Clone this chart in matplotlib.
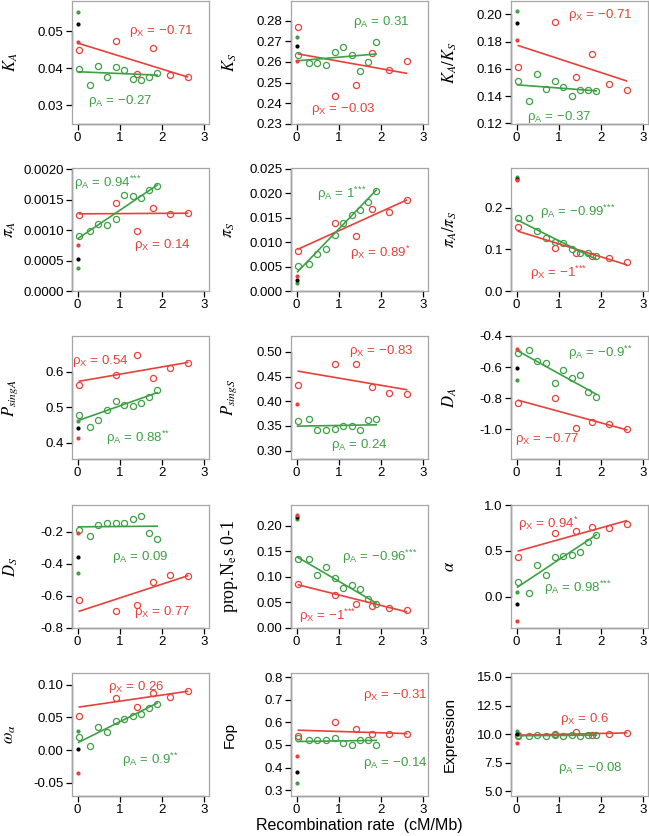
import matplotlib
matplotlib.use("Agg")
from matplotlib import pyplot as plt

plt.rcParams['font.family'] = ['Liberation Sans', 'DejaVu Sans']
plt.rcParams['mathtext.fontset'] = 'custom'
plt.rcParams['mathtext.rm'] = 'Liberation Sans'
plt.rcParams['mathtext.it'] = 'Liberation Sans:italic'
plt.rcParams['mathtext.bf'] = 'Liberation Sans:bold'

RED = '#e8403a'
GREEN = '#3da045'
DOT_COLS = [GREEN, 'black', RED]

# recombination rate of the autosomal (A) and X-linked (X) bins
rec_A = [0.02, 0.30, 0.49, 0.69, 0.91, 1.11, 1.31, 1.50, 1.69, 1.89]
rec_X = [0.04, 0.91, 1.42, 1.80, 2.19, 2.61]

# K_A
ka_A = [0.0397, 0.0354, 0.0406, 0.0377, 0.0402, 0.0394, 0.0370, 0.0368, 0.0376, 0.0388]
ka_X = [0.0449, 0.0474, 0.0385, 0.0453, 0.0382, 0.0377]
ka_dots = [0.0551, 0.0520, 0.0471]
ka_fitA = [0.0390, 0.0381]
ka_fitX = [0.0466, 0.0376]

# K_S
ks_A = [0.2635, 0.2594, 0.2597, 0.2585, 0.2650, 0.2671, 0.2635, 0.2555, 0.2602, 0.2697]
ks_X = [0.2771, 0.2435, 0.2489, 0.2644, 0.2561, 0.2603]
ks_dots = [0.2724, 0.2677, 0.2605]
ks_fitA = [0.2606, 0.2639]
ks_fitX = [0.2639, 0.2545]

# K_A / K_S
kaks_A = [0.1510, 0.1366, 0.1563, 0.1454, 0.1512, 0.1471, 0.1405, 0.1444, 0.1444, 0.1437]
kaks_X = [0.1615, 0.1941, 0.1539, 0.1712, 0.1490, 0.1444]
kaks_dots = [0.2024, 0.1937, 0.1810]
kaks_fitA = [0.1483, 0.1439]
kaks_fitX = [0.1771, 0.1512]

# pi_A
pia_A = [0.000911, 0.000981, 0.001094, 0.001084, 0.001180, 0.001569, 0.001558, 0.001526, 0.001660, 0.001720]
pia_X = [0.001240, 0.001445, 0.000992, 0.001364, 0.001272, 0.001288]
pia_dots = [0.000383, 0.000528, 0.000760]
pia_fitA = [0.000868, 0.001740]
pia_fitX = [0.001267, 0.001278]

# pi_S
pis_A = [0.00522, 0.00562, 0.00759, 0.00860, 0.01145, 0.01396, 0.01558, 0.01660, 0.01829, 0.02040]
pis_X = [0.00820, 0.01402, 0.01118, 0.01673, 0.01626, 0.01863]
pis_dots = [0.00156, 0.00224, 0.00312]
pis_fitA = [0.00393, 0.02066]
pis_fitX = [0.00860, 0.01863]

# pi_A / pi_S
pipi_A = [0.176, 0.176, 0.145, 0.127, 0.118, 0.114, 0.101, 0.092, 0.090, 0.084]
pipi_X = [0.154, 0.103, 0.090, 0.084, 0.078, 0.069]
pipi_dots = [0.2735, 0.2690, 0.2653]
pipi_fitA = [0.170, 0.076]
pipi_fitX = [0.143, 0.063]

# P_singA
psa_A = [0.4787, 0.4436, 0.4645, 0.4929, 0.5166, 0.5052, 0.5024, 0.5128, 0.5289, 0.5479]
psa_X = [0.5621, 0.5924, 0.6474, 0.5839, 0.6123, 0.6237]
psa_dots = [0.4597, 0.4408, 0.4133]
psa_fitA = [0.4626, 0.5412]
psa_fitX = [0.5735, 0.6265]

# P_singS
pss_A = [0.3597, 0.3631, 0.3420, 0.3420, 0.3434, 0.3488, 0.3488, 0.3427, 0.3610, 0.3631]
pss_X = [0.4336, 0.4756, 0.4756, 0.4288, 0.4166, 0.4146]
pss_dots = [None, None, 0.3942]
pss_fitA = [0.3495, 0.3522]
pss_fitX = [0.4607, 0.4234]

# D_A
da_A = [-0.512, -0.491, -0.560, -0.577, -0.700, -0.620, -0.668, -0.652, -0.763, -0.793]
da_X = [-0.832, -0.797, -0.991, -0.952, -0.965, -1.002]
da_dots = [-0.685, -0.603, -0.486]
da_fitA = [-0.495, -0.775]
da_fitX = [-0.814, -1.004]

# D_S
ds_A = [-0.185, -0.223, -0.154, -0.147, -0.143, -0.141, -0.120, -0.101, -0.204, -0.242]
ds_X = [-0.627, -0.695, -0.659, -0.512, -0.467, -0.474]
ds_dots = [-0.457, -0.354, -0.206]
ds_fitA = [-0.168, -0.164]
ds_fitX = [-0.695, -0.474]

# prop. Nes 0-1
nes_A = [0.1349, 0.1355, 0.1040, 0.1197, 0.0967, 0.0776, 0.0836, 0.0757, 0.0572, 0.0474]
nes_X = [0.0868, 0.0651, 0.0460, 0.0428, 0.0395, 0.0342]
nes_dots = [0.2118, 0.2171, 0.2204]
nes_fitA = [0.1382, 0.0487]
nes_fitX = [0.0842, 0.0316]

# alpha
al_A = [0.157, 0.047, 0.343, 0.237, 0.438, 0.449, 0.456, 0.489, 0.602, 0.668]
al_X = [0.434, 0.690, 0.719, 0.756, 0.748, 0.792]
al_dots = [0.058, -0.073, -0.263]
al_fitA = [0.106, 0.675]
al_fitX = [0.500, 0.829]

# omega_alpha
om_A = [0.020, 0.006, 0.035, 0.028, 0.045, 0.048, 0.052, 0.056, 0.065, 0.070]
om_X = [0.052, 0.080, 0.066, 0.088, 0.082, 0.091]
om_dots = [0.029, 0.0015, -0.035]
om_fitA = [0.012, 0.072]
om_fitX = [0.066, 0.090]

# Fop
fop_A = [0.53, 0.52, 0.52, 0.52, 0.53, 0.51, 0.50, 0.52, 0.52, 0.50]
fop_X = [0.54, 0.60, 0.57, 0.55, 0.55, 0.55]
fop_dots = [0.33, 0.38, 0.45]
fop_fitA = [0.515, 0.520]
fop_fitX = [0.565, 0.550]

# Expression
ex_A = [9.9, 9.8, 9.9, 9.8, 9.9, 9.8, 9.9, 9.8, 9.9, 9.9]
ex_X = [9.8, 10.0, 10.2, 9.9, 10.0, 10.1]
ex_dots = [10.3, 10.0, 9.2]
ex_fitA = [9.85, 9.90]
ex_fitX = [9.90, 10.10]

# correlation labels
rho_A = ['−0.27', '0.31', '−0.37', '0.94$^{{*}{*}{*}}$', '1$^{{*}{*}{*}}$', '−0.99$^{{*}{*}{*}}$',
         '0.88$^{{*}{*}}$', '0.24', '−0.9$^{{*}{*}}$', '0.09', '−0.96$^{{*}{*}{*}}$', '0.98$^{{*}{*}{*}}$',
         '0.9$^{{*}{*}}$', '−0.14', '−0.08']
rho_X = ['−0.71', '−0.03', '−0.71', '0.14', '0.89$^{*}$', '−1$^{{*}{*}{*}}$',
         '0.54', '−0.83', '−0.77', '0.77', '−1$^{{*}{*}{*}}$', '0.94$^{*}$',
         '0.26', '−0.31', '0.6']

series = [
    (ka_A, ka_X, ka_dots, ka_fitA, ka_fitX),
    (ks_A, ks_X, ks_dots, ks_fitA, ks_fitX),
    (kaks_A, kaks_X, kaks_dots, kaks_fitA, kaks_fitX),
    (pia_A, pia_X, pia_dots, pia_fitA, pia_fitX),
    (pis_A, pis_X, pis_dots, pis_fitA, pis_fitX),
    (pipi_A, pipi_X, pipi_dots, pipi_fitA, pipi_fitX),
    (psa_A, psa_X, psa_dots, psa_fitA, psa_fitX),
    (pss_A, pss_X, pss_dots, pss_fitA, pss_fitX),
    (da_A, da_X, da_dots, da_fitA, da_fitX),
    (ds_A, ds_X, ds_dots, ds_fitA, ds_fitX),
    (nes_A, nes_X, nes_dots, nes_fitA, nes_fitX),
    (al_A, al_X, al_dots, al_fitA, al_fitX),
    (om_A, om_X, om_dots, om_fitA, om_fitX),
    (fop_A, fop_X, fop_dots, fop_fitA, fop_fitX),
    (ex_A, ex_X, ex_dots, ex_fitA, ex_fitX),
]

# layout: ylabel, label style, ylim, ticks, decimals, pos of rho_A label, pos of rho_X label
panels = [
    (r'$K_A$', 'math', (0.0249, 0.0581), [0.03, 0.04, 0.05], 2, (0.35, 0.19), (0.65, 0.76)),
    (r'$K_S$', 'math', (0.2298, 0.2897), [0.23, 0.24, 0.25, 0.26, 0.27, 0.28], 2, (0.66, 0.83), (0.38, 0.12)),
    (r'$K_A/K_S$', 'math', (0.1196, 0.2098), [0.12, 0.14, 0.16, 0.18, 0.20], 2, (0.35, 0.06), (0.65, 0.89)),
    (r'$\pi_A$', 'math', (0.0, 0.00202), [0, 0.0005, 0.001, 0.0015, 0.002], 4, (0.26, 0.88), (0.66, 0.37)),
    (r'$\pi_S$', 'math', (0.0, 0.0252), [0, 0.005, 0.01, 0.015, 0.02, 0.025], 3, (0.37, 0.79), (0.65, 0.31)),
    (r'$\pi_A/\pi_S$', 'math', (0.0, 0.295), [0.0, 0.1, 0.2], 1, (0.49, 0.645), (0.35, 0.15)),
    (r'$P_{singA}$', 'math', (0.3536, 0.7014), [0.4, 0.5, 0.6], 1, (0.48, 0.17), (0.21, 0.80)),
    (r'$P_{singS}$', 'math', (0.283, 0.532), [0.30, 0.35, 0.40, 0.45, 0.50], 2, (0.50, 0.115), (0.66, 0.88)),
    (r'$D_A$', 'math', (-1.192, -0.4), [-1.0, -0.8, -0.6, -0.4], 1, (0.65, 0.86), (0.26, 0.16)),
    (r'$D_S$', 'math', (-0.8, -0.0316), [-0.8, -0.6, -0.4, -0.2], 1, (0.50, 0.58), (0.655, 0.13)),
    (r'prop.N$_\mathrm{e}$s 0-1', 'serif', (0.0, 0.2401), [0, 0.05, 0.1, 0.15, 0.2], 2, (0.65, 0.575), (0.27, 0.10)),
    (r'$\alpha$', 'math', (-0.339, 1.0), [0.0, 0.5, 1.0], 1, (0.485, 0.33), (0.27, 0.845)),
    (r'$\omega_\alpha$', 'math', (-0.07, 0.118), [-0.05, 0, 0.05, 0.1], 2, (0.57, 0.29), (0.47, 0.89)),
    ('Fop', 'sans', (0.274, 0.818), [0.3, 0.4, 0.5, 0.6, 0.7, 0.8], 1, (0.76, 0.27), (0.76, 0.82)),
    ('Expression', 'sans', (4.57, 15.35), [5.0, 7.5, 10.0, 12.5, 15.0], 1, (0.58, 0.23), (0.54, 0.63)),
]

W, H = 649, 836
col_left = [72, 291, 511]
row_top = [1, 168, 336, 505, 673]
box_w, box_h = 137, 123

fig = plt.figure(figsize=(W / 100, H / 100), dpi=100)

for i, (data, pan) in enumerate(zip(series, panels)):
    r, c = divmod(i, 3)
    ax = fig.add_axes([col_left[c] / W, 1 - (row_top[r] + box_h) / H, box_w / W, box_h / H])
    yA, yX, dots, fitA, fitX = data
    label, style, ylim, ticks, dec, posA, posX = pan

    ax.plot(rec_X, yX, 'o', mfc='none', mec=RED, ms=4.4, mew=0.9)
    ax.plot(rec_A, yA, 'o', mfc='none', mec=GREEN, ms=4.4, mew=0.9)
    ax.plot([rec_X[0], rec_X[-1]], fitX, '-', color=RED, lw=1.2)
    ax.plot([rec_A[0], rec_A[-1]], fitA, '-', color=GREEN, lw=1.2)
    for v, col in zip(dots, DOT_COLS):
        if v is not None:
            ax.plot([0], [v], 'o', color=col, ms=3.0, mew=0)

    ax.text(posA[0], posA[1], 'ρ$_\\mathregular{A}$ = ' + rho_A[i], color=GREEN,
            transform=ax.transAxes, ha='center', va='center', fontsize=9.5)
    ax.text(posX[0], posX[1], 'ρ$_\\mathregular{X}$ = ' + rho_X[i], color=RED,
            transform=ax.transAxes, ha='center', va='center', fontsize=9.5)

    ax.set_xlim(-0.135, 3.12)
    ax.set_ylim(*ylim)
    ax.set_xticks([0, 1, 2, 3])
    ax.set_xticklabels(['0', '1', '2', '3'])
    ax.set_yticks(ticks)
    ax.set_yticklabels(['%.*f' % (dec, t) for t in ticks])
    ax.tick_params(direction='out', length=4, width=0.9, color='black',
                   labelsize=9.5, pad=2)
    for sp in ax.spines.values():
        sp.set_color('#a6a6a6')
        sp.set_linewidth(0.9)
    # black axis lines between the outer ticks, as in base R
    ax.plot([0, 3], [0, 0], transform=ax.get_xaxis_transform(), color='black',
            lw=0.9, clip_on=False)
    ax.plot([0, 0], [ticks[0], ticks[-1]], transform=ax.get_yaxis_transform(),
            color='black', lw=0.9, clip_on=False)

    if style == 'math':
        ax.text(-0.45, 0.5, label, transform=ax.transAxes, rotation=90,
                ha='center', va='center', fontsize=12, math_fontfamily='stix')
    elif style == 'serif':
        ax.text(-0.45, 0.5, label, transform=ax.transAxes, rotation=90,
                ha='center', va='center', fontsize=13, family='Liberation Serif',
                math_fontfamily='stix')
    else:
        ax.text(-0.45, 0.5, label, transform=ax.transAxes, rotation=90,
                ha='center', va='center', fontsize=11)

fig.text(0.553, 0.003, 'Recombination rate  (cM/Mb)', ha='center', va='bottom', fontsize=11.5)

fig.savefig('out.png', dpi=100)
